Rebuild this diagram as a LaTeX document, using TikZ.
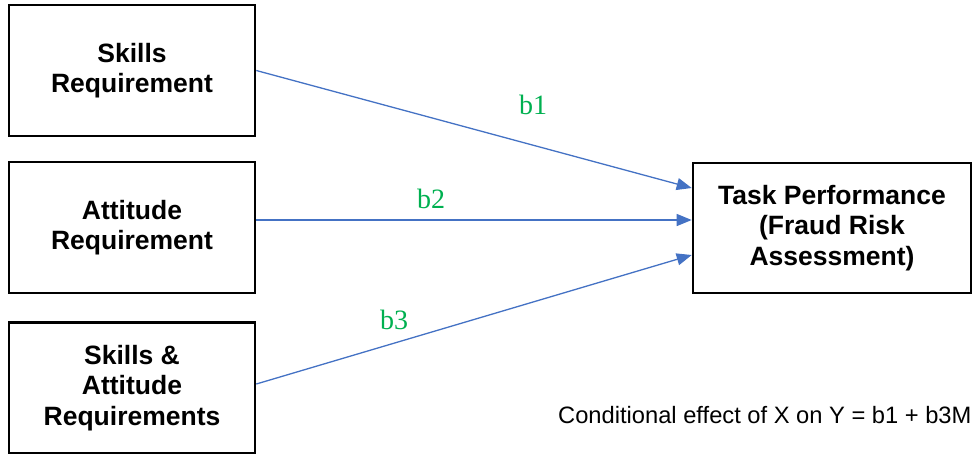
\documentclass[tikz,border=0pt]{standalone}
\usepackage{fontspec}
\setmainfont{Liberation Sans}
\newfontfamily\serifb{Liberation Serif}
\usetikzlibrary{arrows.meta}
\definecolor{linkblue}{HTML}{4472C4}
\definecolor{labgreen}{HTML}{00B050}
\begin{document}
\begin{tikzpicture}[x=1pt,y=-1pt,
  varbox/.style={draw=black,line width=2.6pt,inner sep=0pt,align=center,
    font=\fontsize{26.5}{30.5}\selectfont\bfseries},
  link/.style={draw=linkblue,line width=1.3pt,-{Triangle[length=15pt,width=12pt]}},
  coef/.style={text=labgreen,font=\serifb\fontsize{28}{30}\selectfont,inner sep=0pt}]
\useasboundingbox (0,0) rectangle (977,453);
\node[varbox,minimum width=246pt,minimum height=131pt] (S) at (132,70.5) {Skills\\Requirement};
\node[varbox,minimum width=246pt,minimum height=131pt] (A) at (132,227.5) {Attitude\\Requirement};
\node[varbox,minimum width=246pt,minimum height=131pt] (SA) at (132,388) {Skills \&\\Attitude\\Requirements};
\node[varbox,minimum width=278pt,minimum height=130pt] (T) at (832,228) {Task Performance\\(Fraud Risk\\Assessment)};
\draw[link] (S.east) -- ([yshift=40pt]T.west);
\draw[link] ([yshift=7.5pt]A.east) -- ([yshift=8pt]T.west);
\draw[link] ([yshift=4pt]SA.east) -- ([yshift=-27pt]T.west);
\node[coef] (l1) at (533,105) {b1};
\node[coef] (l2) at (431,199) {b2};
\node[coef] (l3) at (394,320) {b3};
\node[anchor=base west,inner sep=0pt,font=\fontsize{23.7}{26}\selectfont] (eq) at (558,423) {Conditional effect of X on Y = b1 + b3M};
\end{tikzpicture}
\end{document}
